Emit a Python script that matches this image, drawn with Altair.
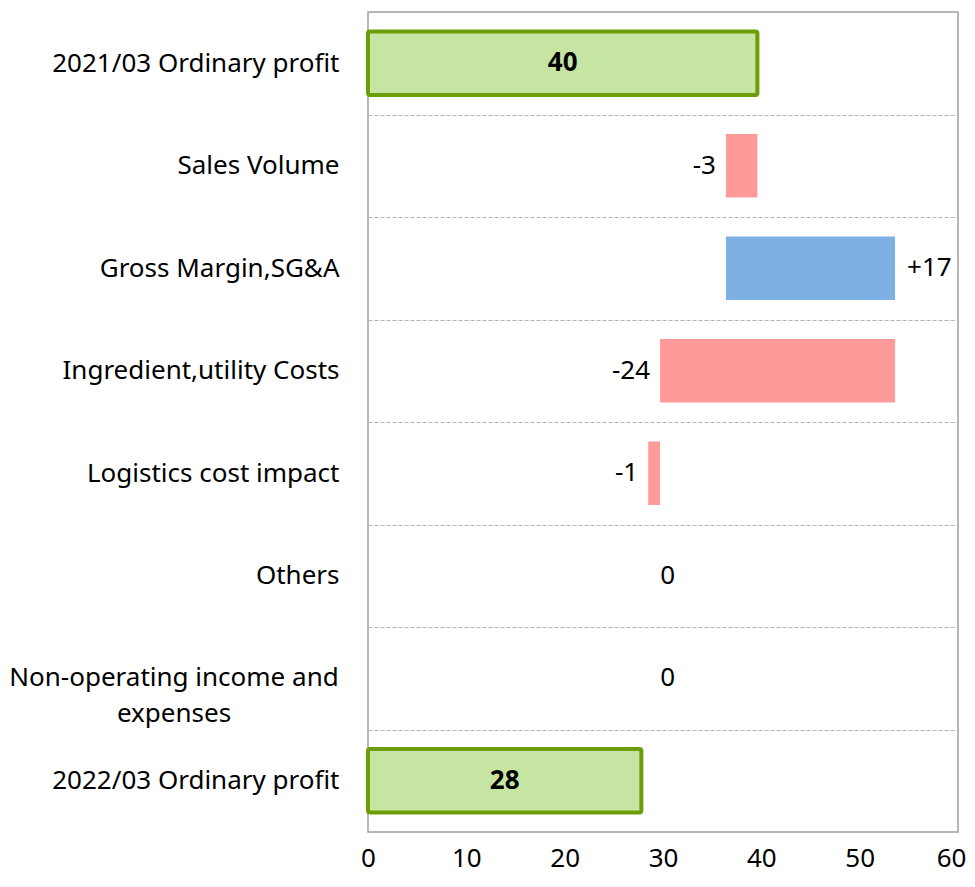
import altair as alt
import pandas as pd

categories = [
    "2021/03 Ordinary profit",
    "Sales Volume",
    "Gross Margin,SG&A",
    "Ingredient,utility Costs",
    "Logistics cost impact\u00a0",
    "Others",
    "Non-operating income and expenses",
    "2022/03 Ordinary profit",
]
start_total = 39.6
changes = [-3.2, 17.2, -23.9, -1.2, 0.0, 0.0]
end_total = 27.8
labels = ["40", "-3", "+17", "-24", "-1", "0", "0", "28"]
x_ticks = [0, 10, 20, 30, 40, 50, 60]
wrapped_label = ["Non-operating income and", "expenses"]

rows = []
rows.append(dict(cat=categories[0], lo=0.0, hi=start_total, kind="total"))
running = start_total
for c, d in zip(categories[1:-1], changes):
    new = running + d
    rows.append(dict(cat=c, lo=min(running, new), hi=max(running, new),
                     kind="neg" if d < 0 else "pos"))
    running = new
rows.append(dict(cat=categories[-1], lo=0.0, hi=end_total, kind="total"))
df = pd.DataFrame(rows)
df["label"] = labels
df["mid"] = (df["lo"] + df["hi"]) / 2
df["lx"] = df.apply(lambda r: r["mid"] if r["kind"] == "total" else (r["lo"] if r["kind"] == "neg" else r["hi"]), axis=1)

FONT = "Noto Sans"
FS = 26

y_enc = alt.Y(
    "cat:N", sort=categories,
    scale=alt.Scale(paddingInner=0, paddingOuter=0),
    axis=alt.Axis(
        title=None, tickBand="extent", grid=True, gridDash=[4, 2], gridColor="#b4b4b4",
        gridWidth=1, ticks=False, domain=False, labelPadding=29, labelFontSize=FS,
        labelFont=FONT, labelColor="black", labelLimit=400,
        labelExpr="datum.value == 'Non-operating income and expenses' ? '' : datum.value",
    ),
)
x_scale = alt.Scale(domain=[0, 60], nice=False)
x_axis = alt.Axis(
    values=x_ticks, grid=False, ticks=False, domain=False, labelPadding=13,
    labelFlush=False, labelFontSize=FS, labelFont=FONT, labelColor="black", title=None,
    labelAlign={"condition": {"test": "datum.value == 60", "value": "right"}, "value": "center"},
    labelOffset={"condition": {"test": "datum.value == 60", "value": 8}, "value": 0},
)

base = alt.Chart(df)

totals = base.transform_filter("datum.kind == 'total'").mark_bar(
    height=alt.RelativeBandSize(band=0.62), fill="#c6e5a3", stroke="#6b9e06",
    strokeWidth=4, cornerRadius=2,
).encode(
    y=y_enc,
    x=alt.X("lo:Q", scale=x_scale, axis=x_axis),
    x2="hi:Q",
)

deltas = base.transform_filter("datum.kind != 'total'").mark_bar(
    height=alt.RelativeBandSize(band=0.62),
).encode(
    y=alt.Y("cat:N", sort=categories),
    x=alt.X("lo:Q", scale=x_scale),
    x2="hi:Q",
    color=alt.condition("datum.kind == 'neg'", alt.value("#fe9a9a"), alt.value("#7fb0e4")),
)

t_total = base.transform_filter("datum.kind == 'total'").mark_text(
    font=FONT, fontSize=FS, fontWeight="bold", color="black", align="center", baseline="middle"
).encode(y=alt.Y("cat:N", sort=categories), x=alt.X("lx:Q", scale=x_scale), text="label:N")

t_neg = base.transform_filter("datum.kind == 'neg'").mark_text(
    font=FONT, fontSize=FS, color="black", align="right", baseline="middle", dx=-10
).encode(y=alt.Y("cat:N", sort=categories), x=alt.X("lx:Q", scale=x_scale), text="label:N")

t_pos = base.transform_filter("datum.kind == 'pos'").mark_text(
    font=FONT, fontSize=FS, color="black", align="left", baseline="middle", dx=12
).encode(y=alt.Y("cat:N", sort=categories), x=alt.X("lx:Q", scale=x_scale), text="label:N")

t_wrap = base.transform_filter("datum.cat == 'Non-operating income and expenses'").mark_text(
    font=FONT, fontSize=FS, color="black", align="center", baseline="middle", lineHeight=36
).encode(y=alt.Y("cat:N", sort=categories), x=alt.value(-194), text=alt.value(wrapped_label))

chart = alt.layer(totals, deltas, t_total, t_neg, t_pos, t_wrap).properties(
    width=590, height=820,
    autosize=alt.AutoSizeParams(type="none"),
    padding={"left": 360, "top": 4, "right": 9, "bottom": 44},
).configure(background="white").configure_view(stroke="#a0a0a0", strokeWidth=1.5)

chart.save("out.html", embed_options={"renderer": "svg", "actions": False})
